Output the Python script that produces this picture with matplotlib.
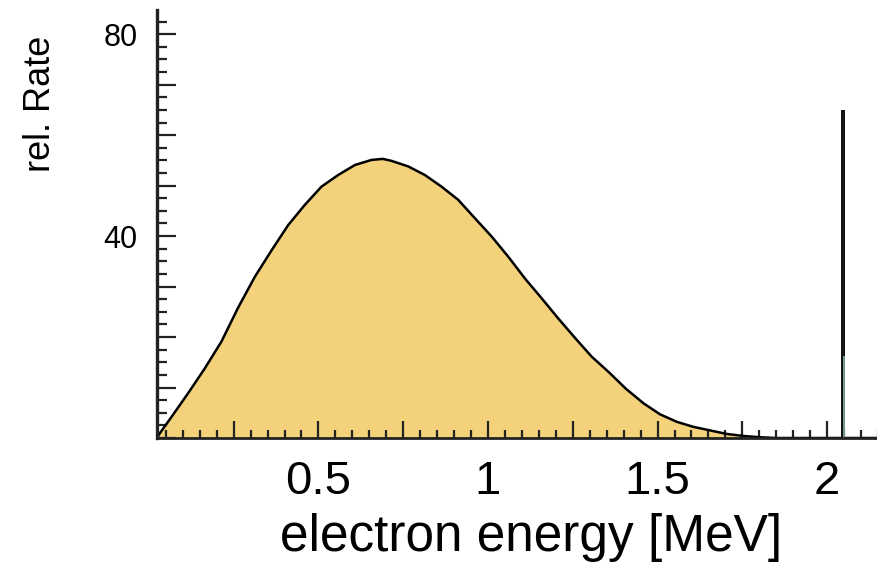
import numpy as np
import matplotlib.pyplot as plt
from matplotlib.ticker import MultipleLocator, FuncFormatter

plt.rcParams['font.family'] = ['Liberation Sans', 'DejaVu Sans']

# beta spectrum (continuous part)
energy = [0.024, 0.032, 0.067, 0.116, 0.165, 0.214, 0.263, 0.313, 0.362,
          0.411, 0.460, 0.509, 0.558, 0.608, 0.657, 0.690, 0.716, 0.765,
          0.814, 0.863, 0.912, 0.962, 1.011, 1.060, 1.109, 1.158, 1.207,
          1.257, 1.306, 1.357, 1.406, 1.458, 1.507, 1.557, 1.606, 1.655,
          1.704, 1.753, 1.802, 1.852, 1.95, 2.15]
rate = [0.0, 0.9, 4.2, 8.9, 13.8, 19.1, 25.8, 32.0, 37.2,
        42.2, 46.2, 49.8, 52.1, 54.1, 55.1, 55.3, 54.9, 53.8,
        52.1, 49.8, 47.2, 43.5, 39.9, 35.9, 31.6, 27.7, 23.7,
        19.8, 16.1, 13.0, 9.8, 6.9, 4.7, 3.2, 2.2, 1.5,
        0.8, 0.4, 0.15, 0.0, 0.0, 0.0]

# neutrinoless peak
peak_e = 2.047
peak_h = 65.0

fig = plt.figure(figsize=(8.78, 5.67), dpi=100)
ax = fig.add_axes([157/878, 1 - 438/567, 1 - 157/878, 428/567])

ax.fill_between(energy, rate, 0, color='#f4d27c', lw=0)
ax.plot(energy, rate, color='black', lw=1.8, solid_joinstyle='round')
ax.bar([peak_e], [peak_h], width=0.011, color='#141414', lw=0)
ax.plot([peak_e + 0.003, peak_e + 0.003], [0, 16], color='#7fa29e', lw=1.3)

ax.set_xlim(0.024, 2.15)
ax.set_ylim(0, 84.8)

for s in ['top', 'right']:
    ax.spines[s].set_visible(False)
ax.spines['left'].set_linewidth(2.4)
ax.spines['bottom'].set_linewidth(2.0)
ax.spines['left'].set_color('#222222')
ax.spines['bottom'].set_color('#222222')

ax.xaxis.set_major_locator(MultipleLocator(0.25))
ax.xaxis.set_minor_locator(MultipleLocator(0.05))
ax.yaxis.set_major_locator(MultipleLocator(10))
ax.yaxis.set_minor_locator(MultipleLocator(2.5))


def xfmt(v, pos):
    if abs(v * 2 - round(v * 2)) < 1e-6 and v > 0.1:
        return '%g' % v
    return ''


def yfmt(v, pos):
    return '%d' % v if round(v) in (40, 80) else ''


ax.xaxis.set_major_formatter(FuncFormatter(xfmt))
ax.yaxis.set_major_formatter(FuncFormatter(yfmt))

ax.tick_params(axis='x', which='major', direction='in', length=12, width=1.6,
               labelsize=34, pad=16, color='#222222')
ax.tick_params(axis='x', which='minor', direction='in', length=6, width=1.6,
               color='#222222')
ax.tick_params(axis='y', which='major', direction='in', length=14, width=1.6,
               labelsize=22, pad=14, color='#222222')
ax.tick_params(axis='y', which='minor', direction='in', length=7, width=1.6,
               color='#222222')

ax.set_xlabel('electron energy [MeV]', fontsize=37)
ax.xaxis.set_label_coords((531 - 157) / 721, -0.176)
ax.set_ylabel('rel. Rate', fontsize=26)
ax.yaxis.set_label_coords(-0.138, 0.78)

fig.savefig('out.png', dpi=100)
